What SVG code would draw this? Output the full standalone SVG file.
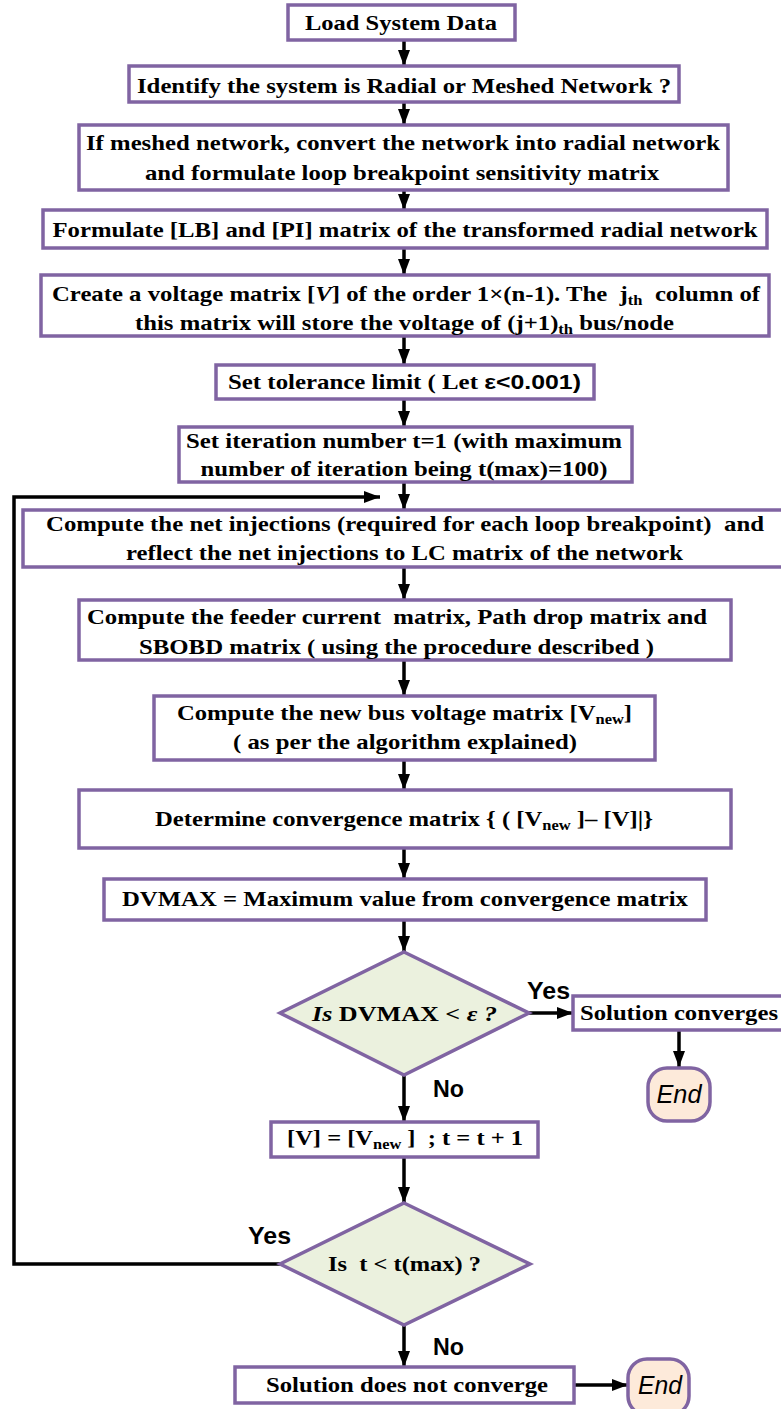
<svg xmlns="http://www.w3.org/2000/svg" width="781" height="1409" viewBox="0 0 781 1409">
  <style>
    .box { fill: #ffffff; stroke: #8064a2; stroke-width: 3.5; }
    .dec { fill: #ebf1de; stroke: #8064a2; stroke-width: 3.5; }
    .term { fill: #fdeada; stroke: #8064a2; stroke-width: 3.5; }
    .t { font-family: "Liberation Serif", "Times New Roman", serif; font-weight: bold; font-size: 21px; fill: #000; }
    .sub { font-size: 14px; }
    .lbl { font-family: "Liberation Sans", Arial, sans-serif; font-weight: bold; font-size: 23px; fill: #000; }
    .end { font-family: "Liberation Sans", Arial, sans-serif; font-style: italic; font-size: 25px; fill: #000; }
    .wire { fill: none; stroke: #000; stroke-width: 3.5; }
  </style>
  <defs>
    <marker id="arrow" viewBox="0 0 16 12" refX="16" refY="6" markerWidth="16" markerHeight="12" markerUnits="userSpaceOnUse" orient="auto">
      <path d="M0,0 L16,6 L0,12 z" fill="#000"/>
    </marker>
  </defs>

  <g id="connectors">
    <line class="wire" x1="404" y1="40" x2="404" y2="66" marker-end="url(#arrow)"/>
    <line class="wire" x1="404" y1="102" x2="404" y2="125" marker-end="url(#arrow)"/>
    <line class="wire" x1="404" y1="190" x2="404" y2="210" marker-end="url(#arrow)"/>
    <line class="wire" x1="404" y1="248" x2="404" y2="275" marker-end="url(#arrow)"/>
    <line class="wire" x1="404" y1="336" x2="404" y2="365" marker-end="url(#arrow)"/>
    <line class="wire" x1="404" y1="399" x2="404" y2="427" marker-end="url(#arrow)"/>
    <line class="wire" x1="404" y1="482" x2="404" y2="510" marker-end="url(#arrow)"/>
    <line class="wire" x1="404" y1="567" x2="404" y2="600" marker-end="url(#arrow)"/>
    <line class="wire" x1="404" y1="660" x2="404" y2="696" marker-end="url(#arrow)"/>
    <line class="wire" x1="404" y1="760" x2="404" y2="790" marker-end="url(#arrow)"/>
    <line class="wire" x1="404" y1="848" x2="404" y2="879" marker-end="url(#arrow)"/>
    <line class="wire" x1="404" y1="920" x2="404" y2="952" marker-end="url(#arrow)"/>
    <line class="wire" x1="529" y1="1013" x2="573" y2="1013" marker-end="url(#arrow)"/>
    <line class="wire" x1="679" y1="1030" x2="679" y2="1067" marker-end="url(#arrow)"/>
    <line class="wire" x1="404" y1="1075" x2="404" y2="1122" marker-end="url(#arrow)"/>
    <line class="wire" x1="404" y1="1157" x2="404" y2="1203" marker-end="url(#arrow)"/>
    <line class="wire" x1="404" y1="1325" x2="404" y2="1367" marker-end="url(#arrow)"/>
    <line class="wire" x1="574" y1="1385" x2="628" y2="1385" marker-end="url(#arrow)"/>
    <polyline class="wire" points="280,1264 14,1264 14,497 380,497" marker-end="url(#arrow)"/>
  </g>

  <g id="load-data">
    <rect class="box" x="288" y="5" width="227" height="35"/>
    <text class="t" x="401" y="30" text-anchor="middle" textLength="192" lengthAdjust="spacingAndGlyphs">Load System Data</text>
  </g>

  <g id="identify-network">
    <rect class="box" x="129" y="66" width="550" height="36"/>
    <text class="t" x="404" y="93" text-anchor="middle" textLength="534" lengthAdjust="spacingAndGlyphs">Identify the system is Radial or Meshed Network ?</text>
  </g>

  <g id="convert-radial">
    <rect class="box" x="79" y="125" width="649" height="65"/>
    <text class="t" x="403" y="150" text-anchor="middle" textLength="634" lengthAdjust="spacingAndGlyphs">If meshed network, convert the network into radial network</text>
    <text class="t" x="402" y="180" text-anchor="middle" textLength="514" lengthAdjust="spacingAndGlyphs">and formulate loop breakpoint sensitivity matrix</text>
  </g>

  <g id="formulate-lb-pi">
    <rect class="box" x="43" y="210" width="724" height="38"/>
    <text class="t" x="405" y="237" text-anchor="middle" textLength="705" lengthAdjust="spacingAndGlyphs">Formulate [LB] and [PI] matrix of the transformed radial network</text>
  </g>

  <g id="voltage-matrix">
    <rect class="box" x="41" y="275" width="728" height="61"/>
    <text class="t" x="52" y="301" textLength="708" lengthAdjust="spacingAndGlyphs">Create a voltage matrix [<tspan font-style="italic">V</tspan>] of the order 1×(n-1). The &#160;j<tspan class="sub" dy="4">th</tspan><tspan dy="-4"> &#160;column of</tspan></text>
    <text class="t" x="135" y="330" textLength="539" lengthAdjust="spacingAndGlyphs">this matrix will store the voltage of (j+1)<tspan class="sub" dy="4">th</tspan><tspan dy="-4"> bus/node</tspan></text>
  </g>

  <g id="tolerance">
    <rect class="box" x="216" y="365" width="378" height="34"/>
    <text class="t" x="228" y="389" textLength="353" lengthAdjust="spacingAndGlyphs">Set tolerance limit ( Let <tspan font-family="Liberation Sans, Arial, sans-serif">ε&lt;0.001)</tspan></text>
  </g>

  <g id="iteration-init">
    <rect class="box" x="179" y="427" width="453" height="55"/>
    <text class="t" x="404" y="448" text-anchor="middle" textLength="436" lengthAdjust="spacingAndGlyphs">Set iteration number t=1 (with maximum</text>
    <text class="t" x="404" y="476" text-anchor="middle" textLength="407" lengthAdjust="spacingAndGlyphs">number of iteration being t(max)=100)</text>
  </g>

  <g id="net-injections">
    <rect class="box" x="23" y="510" width="764" height="57"/>
    <text class="t" x="46" y="531" textLength="718" lengthAdjust="spacingAndGlyphs">Compute the net injections (required for each loop breakpoint) &#160;and</text>
    <text class="t" x="126" y="560" textLength="557" lengthAdjust="spacingAndGlyphs">reflect the net injections to LC matrix of the network</text>
  </g>

  <g id="feeder-current">
    <rect class="box" x="79" y="600" width="652" height="60"/>
    <text class="t" x="87" y="624" textLength="620" lengthAdjust="spacingAndGlyphs">Compute the feeder current &#160;matrix, Path drop matrix and</text>
    <text class="t" x="139" y="654" textLength="515" lengthAdjust="spacingAndGlyphs">SBOBD matrix ( using the procedure described )</text>
  </g>

  <g id="new-voltage">
    <rect class="box" x="154" y="696" width="501" height="64"/>
    <text class="t" x="177" y="720" textLength="455" lengthAdjust="spacingAndGlyphs">Compute the new bus voltage matrix [V<tspan class="sub" dy="4">new</tspan><tspan dy="-4">]</tspan></text>
    <text class="t" x="233" y="749" textLength="344" lengthAdjust="spacingAndGlyphs">( as per the algorithm explained)</text>
  </g>

  <g id="convergence-matrix">
    <rect class="box" x="79" y="790" width="652" height="58"/>
    <text class="t" x="155" y="826" textLength="498" lengthAdjust="spacingAndGlyphs">Determine convergence matrix { ( [V<tspan class="sub" dy="4">new</tspan><tspan dy="-4"> ]– [V]|}</tspan></text>
  </g>

  <g id="dvmax">
    <rect class="box" x="104" y="879" width="602" height="41"/>
    <text class="t" x="122" y="906" textLength="566" lengthAdjust="spacingAndGlyphs">DVMAX = Maximum value from convergence matrix</text>
  </g>

  <g id="check-tolerance">
    <polygon class="dec" points="404,952 529,1013 404,1075 280,1013"/>
    <text class="t" x="312" y="1021" textLength="185" lengthAdjust="spacingAndGlyphs"><tspan font-style="italic">Is</tspan> DVMAX &lt; <tspan font-style="italic">ε ?</tspan></text>
  </g>

  <g id="converged">
    <rect class="box" x="573" y="996" width="212" height="34"/>
    <text class="t" x="580" y="1020" textLength="198" lengthAdjust="spacingAndGlyphs">Solution converges</text>
  </g>

  <g id="end-converged">
    <rect class="term" x="648" y="1068" width="62" height="53" rx="19" ry="19"/>
    <text class="end" x="679" y="1103" text-anchor="middle" textLength="45" lengthAdjust="spacingAndGlyphs">End</text>
  </g>

  <g id="update-voltage">
    <rect class="box" x="271" y="1122" width="267" height="35"/>
    <text class="t" x="287" y="1145" textLength="236" lengthAdjust="spacingAndGlyphs">[V] = [V<tspan class="sub" dy="4">new</tspan><tspan dy="-4"> ] &#160;; t = t + 1</tspan></text>
  </g>

  <g id="check-iterations">
    <polygon class="dec" points="404,1203 530,1264 404,1325 280,1264"/>
    <text class="t" x="328" y="1271" textLength="153" lengthAdjust="spacingAndGlyphs">Is &#160;t &lt; t(max) ?</text>
  </g>

  <g id="not-converged">
    <rect class="box" x="235" y="1367" width="339" height="36"/>
    <text class="t" x="266" y="1392" textLength="282" lengthAdjust="spacingAndGlyphs">Solution does not converge</text>
  </g>

  <g id="end-not-converged">
    <rect class="term" x="628" y="1359" width="61" height="56" rx="19" ry="19"/>
    <text class="end" x="660" y="1394" text-anchor="middle" textLength="44" lengthAdjust="spacingAndGlyphs">End</text>
  </g>

  <g id="branch-labels">
    <text class="lbl" x="527" y="999" textLength="43" lengthAdjust="spacingAndGlyphs">Yes</text>
    <text class="lbl" x="433" y="1097" textLength="31" lengthAdjust="spacingAndGlyphs">No</text>
    <text class="lbl" x="248" y="1244" textLength="43" lengthAdjust="spacingAndGlyphs">Yes</text>
    <text class="lbl" x="433" y="1355" textLength="31" lengthAdjust="spacingAndGlyphs">No</text>
  </g>
</svg>
